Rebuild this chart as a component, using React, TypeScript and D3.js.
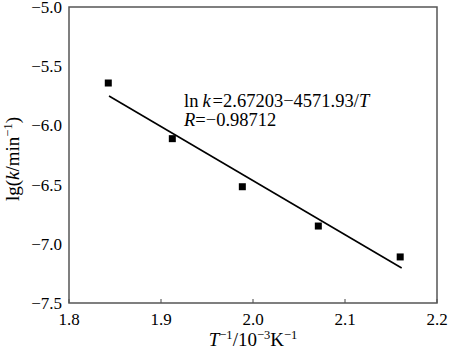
import React from 'react'
import * as d3 from 'd3'

// measured points, lg(k) vs 1/T
const invT = [1.8427, 1.9123, 1.9884, 2.071, 2.16]
const lgK = [-5.642, -6.112, -6.518, -6.85, -7.111]

// fitted line ends
const fitX = [1.8435, 2.1616]
const fitY = [-5.752, -7.204]

const xTicks = [1.8, 1.9, 2.0, 2.1, 2.2]
const yTicks = [-5.0, -5.5, -6.0, -6.5, -7.0, -7.5]

const eqLine = '2.67203\u22124571.93/'
const rLine = '=\u22120.98712'

const width = 450
const height = 351
const margin = { top: 7, right: 13, bottom: 48, left: 69 }
const innerWidth = width - margin.left - margin.right
const innerHeight = height - margin.top - margin.bottom
const font = '"Liberation Serif", "Times New Roman", serif'

export default function App() {
    const xScale = d3.scaleLinear().domain([1.8, 2.2]).range([0, innerWidth])
    const yScale = d3.scaleLinear().domain([-7.5, -5.0]).range([innerHeight, 0])
    const fmt = d3.format('.1f')

    const fitPath = d3.line<number>()
        .x((d, i) => xScale(fitX[i]))
        .y(d => yScale(d))(fitY) || ''

    const s = 7

    return (
        <div style={{ position: 'absolute', left: 0, top: 0 }}>
            <svg width={width} height={height} style={{ display: 'block', fontFamily: font }}>
                <rect width={width} height={height} fill="#fff" />
                <g transform={`translate(${margin.left},${margin.top})`}>
                    {/* x ticks */}
                    {xTicks.map(t => (
                        <g key={t} transform={`translate(${xScale(t)},${innerHeight})`}>
                            <line y2={-4} stroke="#444" strokeWidth={1} />
                            <text y={22} textAnchor="middle" fontSize={17} fill="#000">{fmt(t)}</text>
                        </g>
                    ))}
                    {/* y ticks */}
                    {yTicks.map(t => (
                        <text key={t} x={-7} y={yScale(t)} dy="0.35em" textAnchor="end" fontSize={17} fill="#000">
                            {fmt(t)}
                        </text>
                    ))}
                    {/* frame */}
                    <rect width={innerWidth} height={innerHeight} fill="none" stroke="#555" strokeWidth={1.5} />
                    {/* fit line */}
                    <path d={fitPath} fill="none" stroke="#000" strokeWidth={1.6} />
                    {/* points */}
                    {invT.map((x, i) => (
                        <rect key={i} x={xScale(x) - s / 2} y={yScale(lgK[i]) - s / 2} width={s} height={s} fill="#000" />
                    ))}
                </g>
                {/* equation */}
                <text x={184} y={107} fontSize={18.5} fill="#000">
                    <tspan>ln</tspan>
                    <tspan fontStyle="italic" dx={4}>k</tspan>
                    <tspan dx={2}>{'=' + eqLine}</tspan>
                    <tspan fontStyle="italic">T</tspan>
                </text>
                <text x={184} y={126} fontSize={18.5} fill="#000">
                    <tspan fontStyle="italic">R</tspan>
                    <tspan>{rLine}</tspan>
                </text>
                {/* x label */}
                <text x={margin.left + innerWidth / 2} y={346} textAnchor="middle" fontSize={19} fill="#000">
                    <tspan fontStyle="italic">T</tspan>
                    <tspan fontSize={12.5} dy={-7}>{'\u22121'}</tspan>
                    <tspan dy={7}>/10</tspan>
                    <tspan fontSize={12.5} dy={-7}>{'\u22123'}</tspan>
                    <tspan dy={7}>K</tspan>
                    <tspan fontSize={12.5} dy={-7}>{'\u22121'}</tspan>
                </text>
                {/* y label */}
                <text transform={`translate(19,${159}) rotate(-90)`} textAnchor="middle" fontSize={19} fill="#000">
                    <tspan>lg(</tspan>
                    <tspan fontStyle="italic">k</tspan>
                    <tspan>/min</tspan>
                    <tspan fontSize={12.5} dy={-7}>{'\u22121'}</tspan>
                    <tspan dy={7}>)</tspan>
                </text>
            </svg>
        </div>
    )
}
